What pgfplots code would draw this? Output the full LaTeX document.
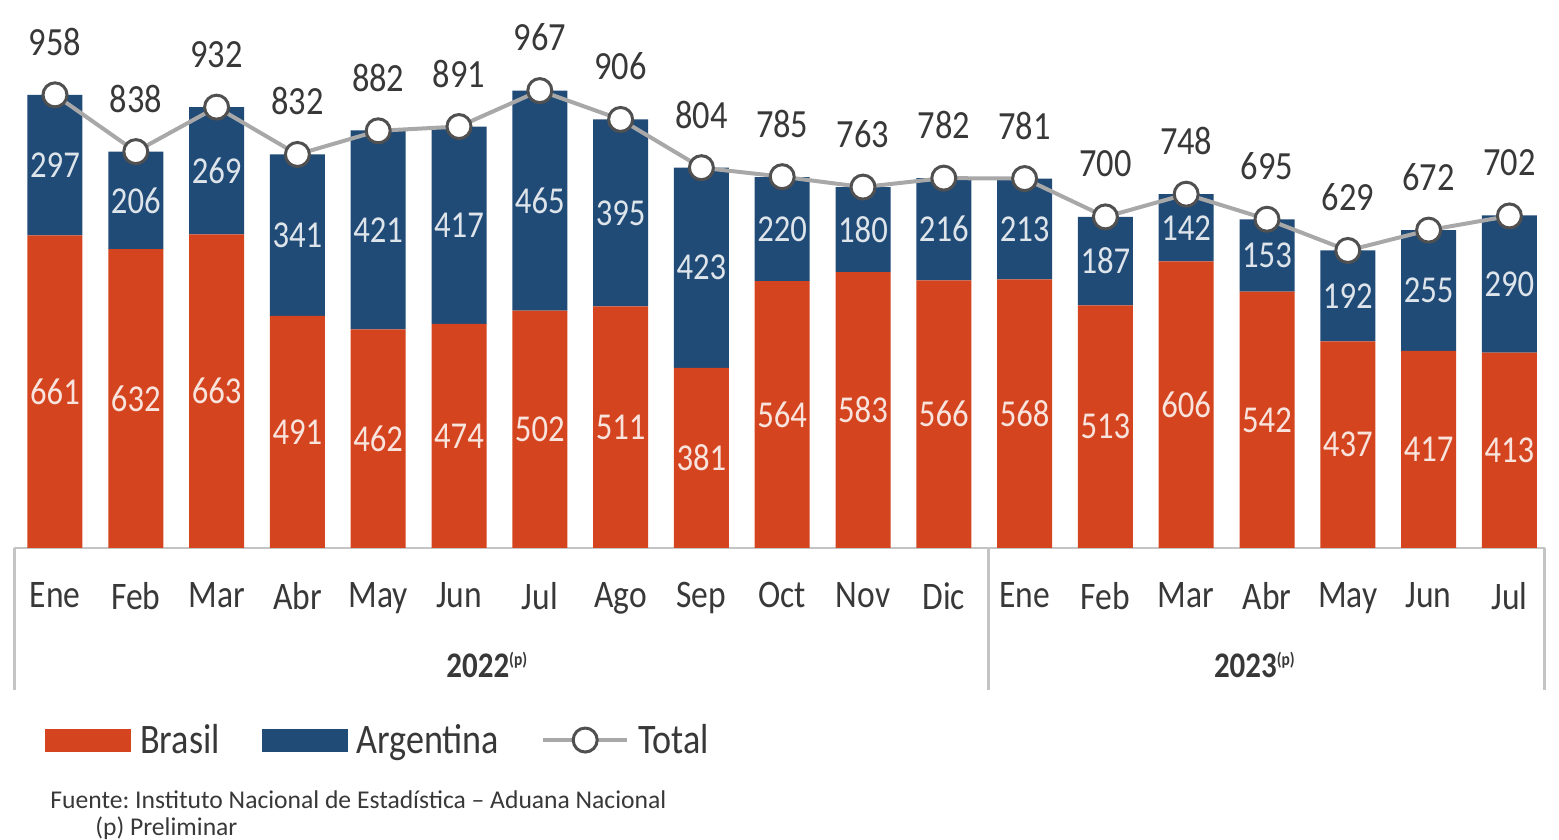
\documentclass[border=0pt]{standalone}
\usepackage{pgfplots}
\usepackage{pgfplotstable}
\pgfplotsset{compat=1.18}
\usepackage{fontspec}
\setmainfont{Carlito}[FakeStretch=0.86]
\newfontfamily\srcfont{Carlito}
\frenchspacing

\definecolor{brasil}{HTML}{D4441F}
\definecolor{argentina}{HTML}{214B77}
\definecolor{lineGray}{HTML}{A8A8A8}
\definecolor{markGray}{HTML}{505050}
\definecolor{txtGray}{HTML}{383838}
\definecolor{sepGray}{HTML}{C4C4C4}

% x: mes (0 = Ene 2022 ... 18 = Jul 2023)
\pgfplotstableread{
x  brasil argentina total
0  661 297 958
1  632 206 838
2  663 269 932
3  491 341 832
4  462 421 882
5  474 417 891
6  502 465 967
7  511 395 906
8  381 423 804
9  564 220 785
10 583 180 763
11 566 216 782
12 568 213 781
13 513 187 700
14 606 142 748
15 542 153 695
16 437 192 629
17 417 255 672
18 413 290 702
}\datos

\pgfplotsset{base/.style={
  x=40.4pt, y=0.2365pt, anchor=origin, at={(0pt,0pt)},
  xmin=-0.507, xmax=18.44, ymin=0, ymax=1000, clip=false,
  /pgf/number format/assume math mode=true,
}}

\begin{document}
\begin{tikzpicture}
\useasboundingbox (-27.5pt,-146pt) rectangle (752pt,274pt);

\begin{axis}[base,
  ybar stacked, bar width=27.5pt,
  axis x line*=bottom, axis y line=none,
  x axis line style={-, sepGray, line width=1pt},
  ytick=\empty,
  xtick={0,...,18},
  xticklabels={Ene,Feb,Mar,Abr,May,Jun,Jul,Ago,Sep,Oct,Nov,Dic,Ene,Feb,Mar,Abr,May,Jun,Jul},
  major tick length=0pt,
  xticklabel style={anchor=north, inner sep=0pt, yshift=-17pt,
    font=\fontsize{19.5}{22}\selectfont, text=txtGray},
  nodes near coords,
  every node near coord/.append style={anchor=center,
    text=white, text opacity=0.85, font=\fontsize{19}{22}\selectfont},
]
\addplot[fill=brasil, draw=none] table[x=x, y=brasil]{\datos};
\addplot[fill=argentina, draw=none] table[x=x, y=argentina]{\datos};
\end{axis}

\begin{axis}[base,
  axis lines=none,
  legend style={at={(axis cs:-0.124,-406)}, anchor=west, draw=none, fill=none,
    inner sep=0pt, font=\fontsize{21}{24}\selectfont, text=txtGray,
    /tikz/every even column/.append style={column sep=19pt},
    /tikz/every odd column/.append style={column sep=2.5pt}},
  legend columns=3,
]
\addlegendimage{legend image code/.code={\fill[brasil] (0pt,-5.5pt) rectangle (42.5pt,5.5pt);}}
\addlegendentry{Brasil}
\addlegendimage{legend image code/.code={\fill[argentina] (0pt,-5.5pt) rectangle (42.5pt,5.5pt);}}
\addlegendentry{Argentina}
\addplot[lineGray, line width=2pt, mark=*, mark size=6pt,
  mark options={draw=markGray, fill=white, line width=1.5pt},
  nodes near coords,
  every node near coord/.append style={anchor=center, yshift=26.5pt,
    text=txtGray, font=\fontsize{20}{22}\selectfont},
  legend image code/.code={
    \draw[lineGray, line width=2pt] (0pt,0pt) -- (42pt,0pt);
    \draw[markGray, fill=white, line width=1.5pt] (21pt,0pt) circle (6pt);}
] table[x=x, y=total]{\datos};
\addlegendentry{Total}

% separadores de años
\draw[sepGray, line width=1.5pt] (axis cs:-0.507,0) -- (axis cs:-0.507,-300);
\draw[sepGray, line width=1.5pt] (axis cs:11.547,0) -- (axis cs:11.547,-300);
\draw[sepGray, line width=1.5pt] (axis cs:18.44,0) -- (axis cs:18.44,-300);

\node[text=txtGray, font=\fontsize{18}{20}\selectfont\bfseries] at (axis cs:5.35,-247) {2022\textsuperscript{\fontsize{9}{10}\selectfont(p)}};
\node[text=txtGray, font=\fontsize{18}{20}\selectfont\bfseries] at (axis cs:14.85,-247) {2023\textsuperscript{\fontsize{9}{10}\selectfont(p)}};

\node[anchor=west, inner sep=0pt, text=txtGray, font=\srcfont\fontsize{12.8}{14}\selectfont]
  at (axis cs:-0.062,-533) {Fuente: Instituto Nacional de Estadística – Aduana Nacional};
\node[anchor=west, inner sep=0pt, text=txtGray, font=\srcfont\fontsize{12.8}{14}\selectfont]
  at (axis cs:0.495,-592) {(p) Preliminar};
\end{axis}
\end{tikzpicture}
\end{document}
